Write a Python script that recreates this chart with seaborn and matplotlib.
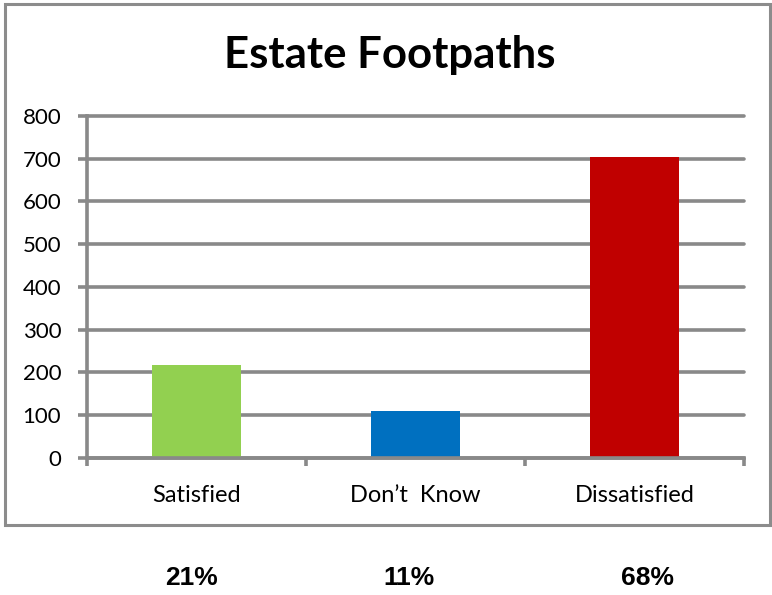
import matplotlib
matplotlib.use("Agg")
import matplotlib.pyplot as plt
from matplotlib.patches import Rectangle
from matplotlib.ticker import FixedLocator
import seaborn as sns

# Survey responses about estate footpaths
categories = ["Satisfied", "Don\u2019t  Know", "Dissatisfied"]
responses = [218, 110, 704]
bar_colors = ["#92D050", "#0070C0", "#C00000"]
y_ticks = [0, 100, 200, 300, 400, 500, 600, 700, 800]

total = sum(responses)
shares = [f"{round(100 * v / total)}%" for v in responses]

sns.set_theme(style="white")
plt.rcParams["font.family"] = ["Lato", "DejaVu Sans"]

W, H = 772, 595
fig = plt.figure(figsize=(W / 100, H / 100), dpi=100)
ax = fig.add_axes([87 / W, 1 - 457.7 / H, (744 - 87) / W, (457.7 - 116) / H])

grid_grey = "#898989"
lw = 2.6

sns.barplot(x=categories, y=responses, hue=categories, palette=bar_colors,
            width=0.41, saturation=1, legend=False, ax=ax, zorder=2,
            edgecolor="none", linewidth=0)

ax.set_xlim(-0.5, 2.5)
ax.set_ylim(0, 800)
ax.set_yticks(y_ticks)
ax.set_yticklabels([str(t) for t in y_ticks], fontsize=16, color="black")
ax.yaxis.grid(True, color=grid_grey, linewidth=lw, zorder=1)
ax.set_axisbelow(True)
ax.tick_params(axis="y", which="major", length=6.5, width=lw, color=grid_grey,
               pad=12, left=True)
ax.tick_params(axis="x", which="major", length=0, pad=20, labelsize=17,
               labelcolor="black")
ax.xaxis.set_minor_locator(FixedLocator([-0.5, 0.5, 1.5, 2.5]))
ax.tick_params(axis="x", which="minor", length=6, width=lw, color=grid_grey,
               bottom=True)
ax.set_xlabel("")
ax.set_ylabel("")

# keep the top gridline at full thickness
for gl in ax.get_ygridlines():
    gl.set_clip_on(False)

for side in ["top", "right"]:
    ax.spines[side].set_visible(False)
for side in ["left", "bottom"]:
    ax.spines[side].set_color(grid_grey)
    ax.spines[side].set_linewidth(lw)
ax.spines["bottom"].set_zorder(3)

# Chart frame
fig.patches.append(Rectangle((5 / W, 1 - 525 / H), (770 - 5) / W, (525 - 4) / H,
                             transform=fig.transFigure, fill=False,
                             edgecolor="#8C8C8C", linewidth=2.2, zorder=0))

fig.text(390 / W, 1 - 67.7 / H, "Estate Footpaths", ha="center", va="baseline",
         fontsize=31.5, fontweight="bold", color="black")

# Share of each response under the chart
share_x = [191, 409, 648]
for x, s in zip(share_x, shares):
    fig.text(x / W, 1 - 585 / H, s, ha="center", va="baseline",
             fontsize=19, fontweight="bold", color="black",
             family=["Liberation Sans", "DejaVu Sans"])

fig.savefig("out.png", dpi=100)
